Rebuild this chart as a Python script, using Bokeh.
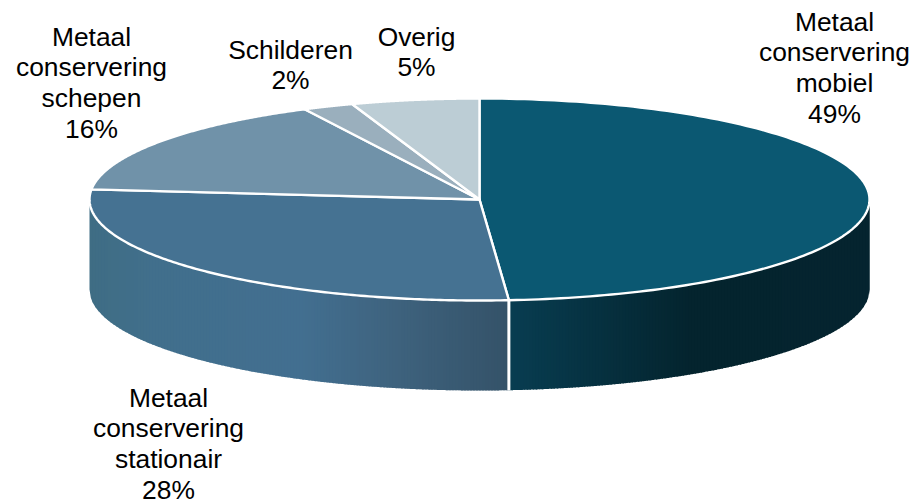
import numpy as np
from bokeh.core.properties import value
from bokeh.embed import file_html
from bokeh.models import ColumnDataSource, Range1d
from bokeh.plotting import figure
from bokeh.resources import INLINE

# --- data -------------------------------------------------------------
names = [
    ["Metaal", "conservering", "mobiel"],
    ["Metaal", "conservering", "stationair"],
    ["Metaal", "conservering", "schepen"],
    ["Schilderen"],
    ["Overig"],
]
shares = [48.8, 27.8, 16.0, 2.1, 5.3]
printed = ["49%", "28%", "16%", "2%", "5%"]

# --- style / layout ---------------------------------------------------
top_colors = ["#0b5872", "#457292", "#7092a9", "#9aafbd", "#bccdd5"]
wall_stops = {
    0: ([0.0, 0.5, 1.0], ["#083d51", "#04242e", "#05242f"]),
    1: ([0.0, 0.15, 0.5, 0.7, 1.0], ["#3f6d84", "#416f8c", "#426f90", "#3f6480", "#345268"]),
}
label_x = [834, 168, 91, 290, 416]
label_first_baseline = [21, 397, 36, 49, 36]
line_step = 30.7
CX, CY, RX, RY, DEPTH = 479.0, 199.0, 390.0, 101.0, 90.0
FONT = "Liberation Sans"
FONT_SIZE = "26.4px"


def hex_rgb(h):
    return np.array([int(h[i:i + 2], 16) for i in (1, 3, 5)], dtype=float)


def ramp(f, pos, cols):
    rgb = [np.interp(f, pos, [hex_rgb(c)[k] for c in cols]) for k in range(3)]
    return "#%02x%02x%02x" % tuple(int(round(v)) for v in rgb)


edges = np.cumsum([0.0] + shares) / sum(shares) * 2 * np.pi


def px(t):
    return CX + RX * np.sin(t)


def py(t):
    return CY - RY * np.cos(t)


p = figure(
    width=912, height=500, output_backend="svg", toolbar_location=None,
    x_range=Range1d(0, 912), y_range=Range1d(500, 0),
    min_border=0, outline_line_color=None, background_fill_color="white",
    border_fill_color="white",
)
p.axis.visible = False
p.grid.visible = False

# --- front wall, drawn as narrow strips to give the horizontal shading
for i in (1, 0):
    a, b = edges[i], edges[i + 1]
    a = max(a, np.pi / 2)
    b = min(b, 3 * np.pi / 2)
    x0, x1 = sorted((px(a), px(b)))
    cuts = np.append(np.arange(x0, x1, 3.0), x1)
    xs, ys, cols = [], [], []
    pos, stops = wall_stops[i]
    for l, r in zip(cuts[:-1], cuts[1:]):
        r2 = min(r + 1.0, x1)
        sx = np.linspace(l, r2, 4)
        rim = CY + RY * np.sqrt(np.clip(1 - ((sx - CX) / RX) ** 2, 0, 1))
        xs.append(np.concatenate([sx, sx[::-1]]))
        ys.append(np.concatenate([rim, (rim + DEPTH)[::-1]]))
        cols.append(ramp((l - x0) / (x1 - x0), pos, stops))
    p.patches(xs, ys, fill_color=cols, line_color=None)

# white seam on the wall where the two visible slices meet
seam = edges[1]
p.segment(px(seam), py(seam), px(seam), py(seam) + DEPTH,
          line_color="white", line_width=3)

# --- top face
for i in range(len(shares)):
    t = np.linspace(edges[i], edges[i + 1], 160)
    p.patch(np.concatenate([[CX], px(t)]), np.concatenate([[CY], py(t)]),
            fill_color=top_colors[i], line_color="white", line_width=2.4,
            line_join="round")

# --- labels
lx, ly, lt = [], [], []
for name, head, x0, y0 in zip(names, printed, label_x, label_first_baseline):
    for k, line in enumerate(name + [head]):
        lx.append(x0)
        ly.append(y0 + k * line_step)
        lt.append(line)
p.text(x="x", y="y", text="t", source=ColumnDataSource(dict(x=lx, y=ly, t=lt)),
       text_font=value(FONT), text_font_size=value(FONT_SIZE),
       text_color="#000000", text_align="center", text_baseline="alphabetic")

open("out.html", "w").write(file_html(p, INLINE))
